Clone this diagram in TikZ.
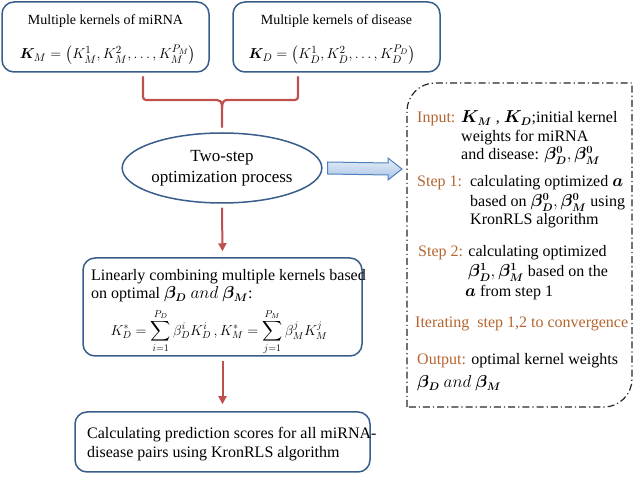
\documentclass[tikz,border=0pt]{standalone}
\usepackage{amsmath,amssymb,bm}
\usepackage{fontspec}
\setmainfont{Liberation Serif}
\usetikzlibrary{shapes.geometric,arrows.meta,calc}
\definecolor{boxblue}{RGB}{56,93,138}
\definecolor{brk}{RGB}{192,80,77}
\definecolor{lbl}{RGB}{181,101,47}
\definecolor{arrtop}{RGB}{230,238,248}
\definecolor{arrbot}{RGB}{170,196,230}
\definecolor{arrline}{RGB}{79,129,189}
\begin{document}
\begin{tikzpicture}[x=1pt,y=-1pt,
  kbox/.style={draw=boxblue, line width=1.5pt, rounded corners=12pt, fill=white, inner sep=0pt},
  ellbox/.style={ellipse, draw=boxblue, line width=1.5pt, fill=white, inner sep=0pt, align=center},
  redarr/.style={draw=brk, line width=2pt, -{Triangle[length=8pt,width=8pt]}},
  brline/.style={draw=brk, line width=2.2pt, line join=round, line cap=round},
  txt/.style={inner sep=0pt, anchor=base west, font=\fontsize{16}{19}\selectfont},
  ctxt/.style={inner sep=0pt, anchor=base, font=\fontsize{16}{19}\selectfont},
  headtxt/.style={inner sep=0pt, anchor=base, font=\fontsize{14}{17}\selectfont},
  dashbox/.style={draw=black!85, line width=1.2pt, dash pattern=on 7pt off 3pt on 1.2pt off 3pt}
]
\useasboundingbox (0,0) rectangle (638,478);

% top boxes
\node[kbox, minimum width=207pt, minimum height=70pt] (km) at (105.5,37) {};
\node[kbox, minimum width=207pt, minimum height=70pt] (kd) at (336.5,37) {};
\node[headtxt] (kmh) at (105.5,25) {Multiple kernels of miRNA};
\node[headtxt] (kdh) at (336.5,25) {Multiple kernels of disease};
\node[headtxt, font=\fontsize{15.5}{18}\selectfont] (kmf) at (108,59) {$\bm{K}_M = \big(K_M^1, K_M^2, \dots, K_M^{P_M}\big)$};
\node[headtxt, font=\fontsize{15.5}{18}\selectfont] (kdf) at (332,59) {$\bm{K}_D = \big(K_D^1, K_D^2, \dots, K_D^{P_D}\big)$};

% ellipse
\node[ellbox, minimum width=177pt, minimum height=70pt, font=\fontsize{17}{21}\selectfont] (ell) at (222,168) {Two-step\\optimization process};

% bracket
\coordinate (bl) at (143,77);
\coordinate (br) at (298,77);
\coordinate (bs) at (222,108);
\coordinate (be) at (222,127);
\draw[brline, rounded corners=3pt] (bl) |- (214,100) .. controls (220,100) and (222,102) .. (bs) -- (be);
\draw[brline, rounded corners=3pt] (br) |- (230,100) .. controls (224,100) and (222,102) .. (bs);

% box 3
\node[kbox, minimum width=279pt, minimum height=98pt] (lin) at (222.5,307) {};
\node[txt] (lin1) at (91,281) {Linearly combining multiple kernels based};
\node[txt] (lin2) at (91,299) {on optimal $\bm{\beta_D}\ and\ \bm{\beta_M}$:};
\node[ctxt, anchor=center, font=\fontsize{14}{17}\selectfont] (lin3) at (219,332) {$\displaystyle K_D^* = \sum_{i=1}^{P_D} \beta_D^i K_D^i\,, K_M^* = \sum_{j=1}^{P_M}\beta_M^j K_M^j$};

% box 4
\node[kbox, minimum width=295pt, minimum height=60pt] (pred) at (222.5,442) {};
\node[txt] (pred1) at (87,439) {Calculating prediction scores for all miRNA-};
\node[txt] (pred2) at (87,458) {disease pairs using KronRLS algorithm};

% red arrows
\draw[redarr, shorten <=4pt, shorten >=6pt] (ell.south) -- (lin.north);
\draw[redarr, shorten <=4pt, shorten >=7pt] (lin.south) -- (pred.north);

% dash-dot box
\draw[dashbox] (407,407) -- (407,111) .. controls (407,95.6) and (419.6,83) .. (435,83) -- (632,83) -- (632,379) .. controls (632,394.4) and (619.4,407) .. (604,407) -- cycle;
\coordinate (opt) at (407,169);

% blue block arrow
\coordinate (a0) at ($(ell.east)+(5,0)$);
\coordinate (a1) at ($(opt)+(-5,0)$);
\draw[arrline, line width=1pt, top color=arrtop, bottom color=arrbot]
  ($(a0)+(0,-6)$) -- ($(a1)+(-14,-6)$) -- ($(a1)+(-14,-11)$) -- (a1) -- ($(a1)+(-14,11)$) -- ($(a1)+(-14,6)$) -- ($(a0)+(0,6)$) -- cycle;

% dash box texts
\node[txt] (in1) at (417,123) {\textcolor{lbl}{Input:} $\bm{K_M}$ , $\bm{K_D}$;initial kernel};
\node[txt] (in2) at (461,142) {weights for miRNA};
\node[txt] (in3) at (461,160) {and disease: $\bm{\beta_D^0}, \bm{\beta_M^0}$};
\node[txt] (s11) at (417,187) {\textcolor{lbl}{Step 1:}\ \ calculating optimized $\bm{a}$};
\node[txt] (s12) at (470,207) {based on $\bm{\beta_D^0}, \bm{\beta_M^0}$ using};
\node[txt] (s13) at (470,225) {KronRLS algorithm};
\node[txt] (s21) at (418,257) {\textcolor{lbl}{Step 2:} calculating optimized};
\node[txt] (s22) at (468,277) {$\bm{\beta_D^1}, \bm{\beta_M^1}$ based on the};
\node[txt] (s23) at (465,297) {$\bm{a}$ from step 1};
\node[txt] (it) at (415,328) {\textcolor{lbl}{Iterating\ \ step 1,2 to convergence}};
\node[txt] (out1) at (417,365) {\textcolor{lbl}{Output:} optimal kernel weights};
\node[txt] (out2) at (417,388) {$\bm{\beta_D}\ and\ \bm{\beta_M}$};
\end{tikzpicture}
\end{document}
